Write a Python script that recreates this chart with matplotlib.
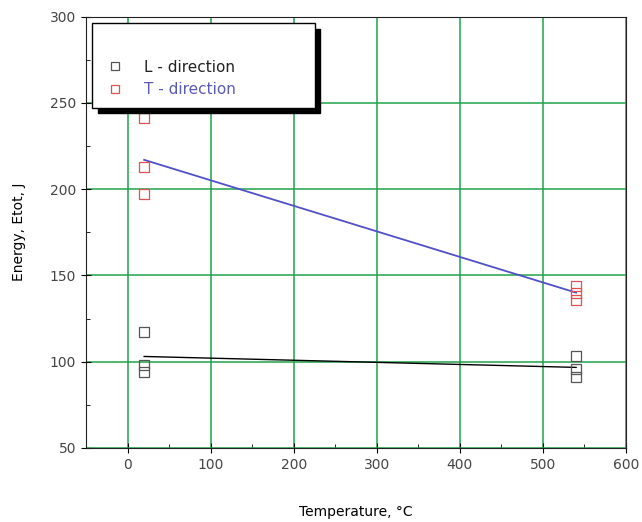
import numpy as np
import matplotlib.pyplot as plt

# data
temp_L = [20, 20, 20, 540, 540, 540]
energy_L = [117, 98, 94, 103, 96, 91]
temp_T = [20, 20, 20, 540, 540, 540]
energy_T = [241, 213, 197, 144, 140, 136]

x_ticks = [0, 100, 200, 300, 400, 500, 600]
y_ticks = [50, 100, 150, 200, 250, 300]

fig = plt.figure(figsize=(6.42, 5.22), dpi=100)
ax = fig.add_axes([0.134, 0.142, 0.841, 0.826])

ax.grid(True, color="#1fa34a", linewidth=1.1)
ax.set_axisbelow(True)

# linear fits
xs = np.array([20, 540])
kL = np.polyfit(temp_L, energy_L, 1)
kT = np.polyfit(temp_T, energy_T, 1)
ax.plot(xs, np.polyval(kL, xs), color="black", linewidth=1)
ax.plot(xs, np.polyval(kT, xs), color="#5050c8", linewidth=1.3)

pad = "\u00a0" * 14
ax.plot(temp_L, energy_L, "s", mfc="none", mec="#555555", ms=7, mew=0.9,
        label="L - direction" + pad)
ax.plot(temp_T, energy_T, "s", mfc="none", mec="#e05050", ms=7, mew=0.9,
        label="T - direction" + pad)

ax.set_xlim(-50, 600)
ax.set_ylim(50, 300)
ax.set_xticks(x_ticks)
ax.set_yticks(y_ticks)
ax.set_xticks(np.arange(-50, 601, 50), minor=True)
ax.set_yticks(np.arange(50, 301, 25), minor=True)
ax.tick_params(which="major", direction="inout", length=7, labelsize=10,
               labelcolor="#444444")
ax.tick_params(which="minor", direction="in", length=3)
for s in ax.spines.values():
    s.set_color("#222222")

ax.set_xlabel("Temperature, °C", fontsize=10, labelpad=24)
ax.set_ylabel("Energy, Etot, J", fontsize=10, labelpad=17)

leg = ax.legend(loc="upper left", bbox_to_anchor=(0.011, 0.985), borderaxespad=0,
                fontsize=11, frameon=True, fancybox=False,
                shadow={"color": "black", "alpha": 1, "ox": 4, "oy": -4},
                edgecolor="black", borderpad=0.7, handlelength=1.6,
                handletextpad=1.1, labelspacing=0.5, markerscale=0.8,
                title=" ", title_fontsize=12)
leg.get_frame().set_linewidth(1)
leg.get_texts()[0].set_color("#222222")
leg.get_texts()[1].set_color("#5a5ab8")

fig.savefig("out.png", dpi=100)
